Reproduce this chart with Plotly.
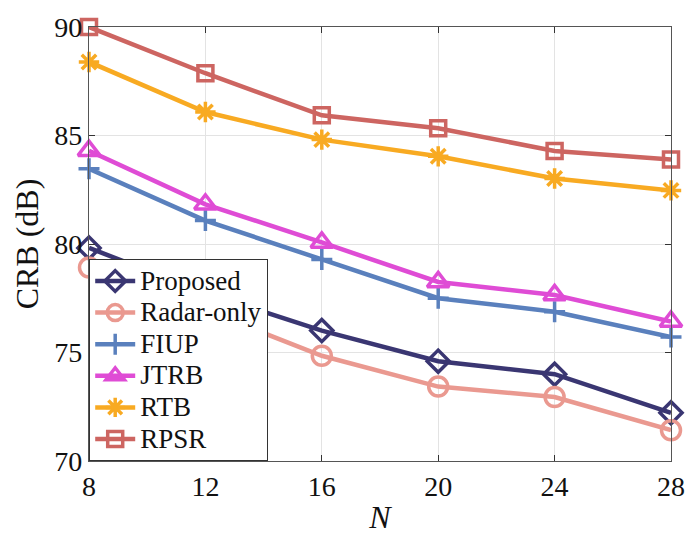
import plotly.graph_objects as go

# Number of antennas N and CRB values (dB) for each scheme
N = [8, 12, 16, 20, 24, 28]
proposed = [79.82, 77.75, 76.01, 74.60, 74.00, 72.22]
radar_only = [78.92, 76.95, 74.85, 73.43, 72.95, 71.42]
fiup = [83.47, 81.08, 79.29, 77.50, 76.88, 75.71]
jtrb = [84.30, 81.83, 80.07, 78.25, 77.65, 76.43]
rtb = [88.39, 86.08, 84.81, 84.04, 83.02, 82.47]
rpsr = [90.00, 87.87, 85.93, 85.33, 84.29, 83.89]

x_ticks = [8, 12, 16, 20, 24, 28]
y_ticks = [70, 75, 80, 85, 90]

series = [
    ("Proposed", proposed, "#3a3672", "diamond-open", 17),
    ("Radar-only", radar_only, "#ea9990", "circle-open", 19),
    ("FIUP", fiup, "#5a80bd", "cross-thin-open", 15),
    ("JTRB", jtrb, "#df4cd5", "triangle-up-open", 19),
    ("RTB", rtb, "#f8aa22", "asterisk-open", 17),
    ("RPSR", rpsr, "#cd6561", "square-open", 15),
]

# legend rows are kept compact while the entry text itself is set larger
LEGEND_TEXT = '<span style="font-size:27px">{}</span>'

fig = go.Figure()
for name, vals, color, symbol, size in series:
    fig.add_trace(go.Scatter(
        x=N, y=vals, name=LEGEND_TEXT.format(name), mode="lines+markers",
        line=dict(color=color, width=4.5),
        marker=dict(symbol=symbol, size=size, color=color,
                    line=dict(color=color, width=3.5)),
        cliponaxis=False,
    ))

axis_common = dict(
    showline=True, linecolor="#555555", linewidth=1.3, mirror="ticks",
    ticks="inside", ticklen=6, tickcolor="#333333", tickwidth=1.3,
    showgrid=True, gridcolor="#e3e3e3", gridwidth=1.2, zeroline=False,
    tickfont=dict(family="Liberation Serif", size=28, color="#111111"),
)

fig.update_xaxes(
    range=[8, 28], tickvals=x_ticks, ticktext=[str(v) for v in x_ticks],
    title=dict(text="<i>N</i>", font=dict(family="Liberation Serif", size=32, color="#111111"),
               standoff=4),
    **axis_common,
)
fig.update_yaxes(
    range=[70, 90], tickvals=y_ticks, ticktext=[str(v) for v in y_ticks],
    title=dict(text="CRB (dB)", font=dict(family="Liberation Serif", size=32, color="#111111"),
               standoff=6),
    **axis_common,
)

fig.update_layout(
    width=697, height=540,
    margin=dict(l=89, r=14, t=21, b=72),
    plot_bgcolor="white", paper_bgcolor="white",
    legend=dict(
        x=0.0, y=0.0, xanchor="left", yanchor="bottom",
        bgcolor="white", bordercolor="#333333", borderwidth=1.2,
        font=dict(family="Liberation Serif", size=22, color="#111111"),
        tracegroupgap=0, itemwidth=40,
    ),
    showlegend=True,
)

fig.write_html("out.html")
